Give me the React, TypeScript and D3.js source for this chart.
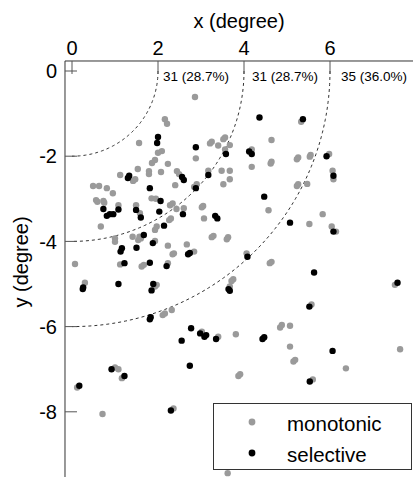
import React from "react";
import * as d3 from "d3";

// points, [x, y] in degrees
const monotonicPoints: [number, number][] = [
  [2.86, -0.61], [2.16, -1.13], [2.21, -1.24], [1.56, -1.69], [2.09, -1.88], [2.0, -1.92],
  [1.93, -2.09], [1.86, -2.16], [2.23, -2.18], [1.53, -2.3], [1.79, -2.35], [1.79, -2.42],
  [2.07, -2.37], [2.44, -2.35], [2.49, -2.42], [1.12, -2.44], [1.47, -2.54], [1.42, -2.58],
  [2.4, -2.68], [0.49, -2.7], [0.63, -2.7], [0.81, -2.75], [0.95, -2.87], [0.56, -3.03],
  [0.59, -3.07], [0.73, -3.05], [0.75, -3.09], [1.08, -3.15], [1.49, -3.15], [1.58, -3.34],
  [1.85, -2.99], [1.95, -3.0], [2.28, -3.15], [2.34, -3.11], [2.43, -3.24], [2.3, -3.46],
  [2.26, -3.5], [1.97, -3.65], [1.93, -3.73], [0.67, -3.65], [1.0, -3.93], [1.0, -4.01],
  [1.41, -3.89], [1.57, -3.89], [1.54, -3.97], [1.6, -3.93], [1.93, -3.99], [2.23, -4.1],
  [2.67, -4.07], [2.34, -4.3], [2.37, -4.28], [2.84, -4.24], [0.07, -4.53], [1.12, -4.54],
  [1.62, -4.59], [1.67, -4.55], [2.23, -4.51], [0.3, -4.97], [1.93, -5.06], [1.97, -5.02],
  [2.11, -5.73], [2.16, -5.69], [2.32, -5.61], [3.02, -6.12], [3.4, -6.24], [3.81, -6.18],
  [4.84, -6.02], [4.88, -5.96], [5.07, -5.98], [5.07, -6.47], [5.15, -6.82], [5.19, -6.78],
  [1.0, -6.96], [1.08, -7.0], [1.16, -7.21], [3.87, -7.16], [3.91, -7.12], [0.12, -7.43],
  [0.71, -8.05], [2.36, -7.92], [7.63, -6.53], [6.37, -6.98], [5.6, -7.24], [3.62, -9.44],
  [3.07, -3.46], [4.57, -3.27], [5.83, -3.36], [5.52, -3.59], [6.04, -3.65], [6.14, -3.77],
  [3.29, -3.87], [3.25, -3.9], [3.63, -3.9], [3.6, -3.95], [4.06, -4.28], [4.64, -4.48],
  [4.6, -4.51], [3.75, -4.89], [3.71, -4.93], [3.67, -5.06], [7.51, -5.02], [5.57, -5.48],
  [3.25, -1.66], [3.21, -1.7], [3.56, -1.56], [3.52, -1.6], [3.4, -1.75], [3.67, -1.74],
  [4.64, -1.62], [3.56, -1.84], [4.18, -1.84], [4.64, -2.13], [4.62, -2.17], [5.26, -2.03],
  [5.23, -2.07], [5.55, -1.97], [5.53, -2.01], [5.98, -1.95], [6.06, -2.34], [6.08, -2.54],
  [3.48, -2.34], [3.67, -2.34], [3.67, -2.54], [4.18, -2.25], [3.52, -2.66], [5.23, -2.7],
  [5.26, -2.66], [5.47, -2.65], [3.05, -3.17], [3.02, -3.2], [5.33, -1.19], [2.88, -2.05],
  [3.17, -2.34], [2.9, -2.66], [2.84, -2.72], [2.6, -3.22],
];

const selectivePoints: [number, number][] = [
  [2.0, -1.55], [1.98, -1.69], [1.33, -2.46], [1.3, -2.51], [2.56, -2.49], [2.6, -2.56],
  [1.81, -2.75], [0.73, -3.24], [0.81, -3.4], [0.88, -3.36], [0.96, -3.36], [1.08, -3.25],
  [1.49, -3.26], [1.6, -3.44], [2.06, -3.05], [2.03, -3.3], [2.58, -3.36], [2.14, -3.63],
  [1.67, -3.85], [1.5, -4.15], [1.88, -4.04], [1.16, -4.16], [1.13, -4.24], [2.7, -4.3],
  [2.74, -4.27], [1.22, -4.51], [1.81, -4.5], [2.2, -4.58], [0.26, -5.08], [0.25, -5.12],
  [1.08, -5.0], [1.89, -5.0], [1.85, -5.15], [1.83, -5.78], [1.81, -5.83], [2.77, -6.04],
  [2.98, -6.16], [3.08, -6.24], [3.12, -6.2], [2.55, -6.33], [3.35, -6.29], [4.43, -6.29],
  [4.47, -6.25], [2.74, -6.92], [0.92, -7.0], [1.22, -7.16], [0.17, -7.39], [2.3, -7.97],
  [6.06, -6.57], [5.53, -7.29], [3.64, -5.12], [3.67, -5.16], [3.33, -3.4], [3.38, -3.46],
  [5.07, -3.56], [6.08, -3.77], [4.08, -4.36], [5.63, -4.73], [7.57, -4.97], [5.52, -5.53],
  [4.36, -1.09], [5.37, -1.13], [3.58, -1.95], [4.12, -1.89], [4.18, -1.95], [5.92, -2.0],
  [6.08, -2.46], [3.17, -2.44], [2.88, -1.79], [2.88, -2.75], [4.47, -2.95],
];

const xTicks = [0, 2, 4, 6];
const yTicks = [0, -2, -4, -6, -8];
const ringRadii = [2, 4, 6];
const ringLabels = ["31 (28.7%)", "31 (28.7%)", "35 (36.0%)"];
const legendLabels = ["monotonic", "selective"];

const W = 413;
const H = 477;
const FONT = "'Liberation Sans', Arial, Helvetica, sans-serif";
const GRAY = "#9a9a9a";

export default function App() {
  const x = d3.scaleLinear().domain([0, 6]).range([72, 330]);
  const y = d3.scaleLinear().domain([0, -8]).range([71, 411.8]);

  const left = x(-0.163);
  const top = y(0.235);

  const arcLine = d3
    .line<number>()
    .x((t) => t)
    .y((t) => t);

  const ringPath = (r: number) => {
    const angles = d3.range(0, 91, 1).map((a) => (a * Math.PI) / 180);
    const pts = angles.map((a) => [x(r * Math.cos(a)), y(-r * Math.sin(a))] as [number, number]);
    return d3.line()(pts) || "";
  };
  void arcLine;

  return (
    <svg
      width={W}
      height={H}
      style={{ position: "absolute", left: 0, top: 0, background: "#fff" }}
      fontFamily={FONT}
    >
      {/* frame */}
      <line x1={left} x2={W} y1={top} y2={top} stroke="#333" strokeWidth={1} />
      <line x1={left} x2={left} y1={top} y2={H} stroke="#333" strokeWidth={1} />

      {/* eccentricity rings */}
      {ringRadii.map((r) => (
        <path key={r} d={ringPath(r)} fill="none" stroke="#333" strokeWidth={1} strokeDasharray="3,3" />
      ))}

      {/* ticks */}
      {xTicks.map((t) => (
        <g key={"xt" + t}>
          <line x1={x(t)} x2={x(t)} y1={top} y2={top + 13} stroke="#555" />
          <text x={x(t)} y={55} fontSize={20} textAnchor="middle">
            {t}
          </text>
        </g>
      ))}
      {yTicks.map((t) => (
        <g key={"yt" + t}>
          <line x1={left} x2={left + 12} y1={y(t)} y2={y(t)} stroke="#555" />
          <text x={57} y={y(t)} dy="0.36em" fontSize={20} textAnchor="end">
            {t}
          </text>
        </g>
      ))}

      {/* axis titles */}
      <text x={239} y={28} fontSize={20} textAnchor="middle">
        x (degree)
      </text>
      <text transform="translate(28,262) rotate(-90)" fontSize={20} textAnchor="middle">
        y (degree)
      </text>

      {/* ring counts */}
      {ringRadii.map((r, i) => (
        <text key={"rl" + i} x={x(r) + 5 + i * 3} y={81} fontSize={13.5}>
          {ringLabels[i]}
        </text>
      ))}

      {/* points */}
      {monotonicPoints.map((p, i) => (
        <circle key={"m" + i} cx={x(p[0])} cy={y(p[1])} r={3.2} fill={GRAY} />
      ))}
      {selectivePoints.map((p, i) => (
        <circle key={"s" + i} cx={x(p[0])} cy={y(p[1])} r={3.2} fill="#000" />
      ))}

      {/* legend */}
      <g>
        <rect x={213.5} y={403.5} width={198} height={66} fill="#fff" stroke="#333" />
        {legendLabels.map((lab, i) => (
          <g key={lab}>
            <circle cx={252} cy={422 + i * 31} r={3.4} fill={i === 0 ? GRAY : "#000"} />
            <text x={287} y={431 + i * 30.5} fontSize={20.5}>
              {lab}
            </text>
          </g>
        ))}
      </g>
    </svg>
  );
}
